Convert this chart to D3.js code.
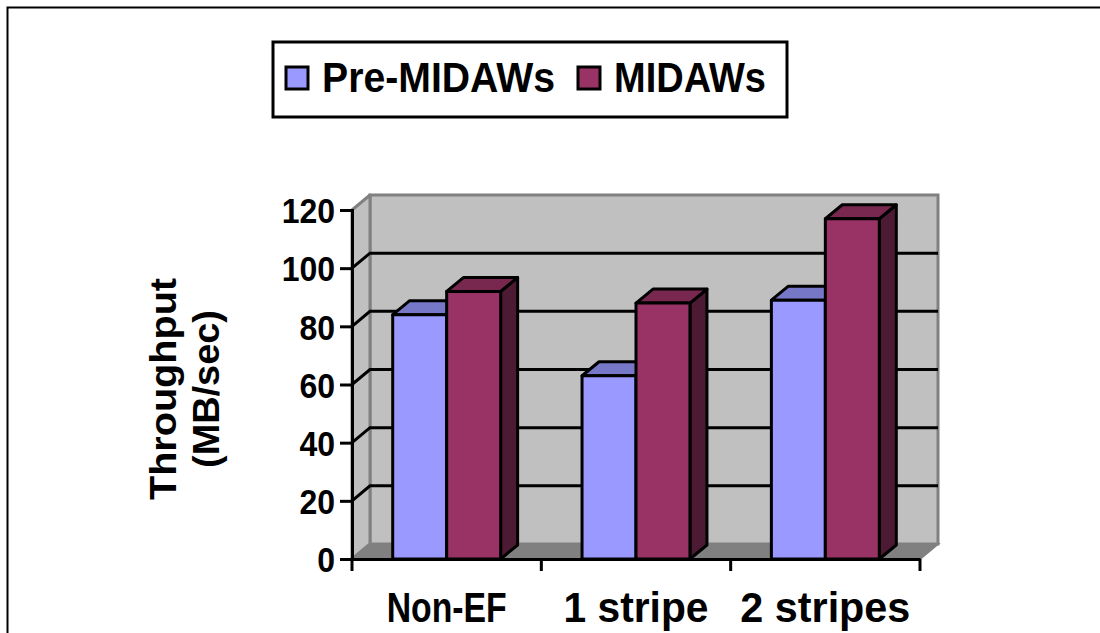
<!DOCTYPE html>
<html>
<head>
<meta charset="utf-8">
<script src="https://cdn.jsdelivr.net/npm/d3@7"></script>
<style>
  html, body { margin: 0; padding: 0; background: #fff; }
  svg { display: block; }
  text { font-family: "Liberation Sans", Arial, sans-serif; font-weight: bold; fill: #000; }
</style>
</head>
<body>
<svg id="chart" width="1100" height="633"></svg>
<script>
// Throughput by layout, before and after MIDAWs
const categories = ["Non-EF", "1 stripe", "2 stripes"];
const seriesNames = ["Pre-MIDAWs", "MIDAWs"];
const preMidaws = [84, 63, 89];
const midaws = [92, 88, 117];
const yTicks = [0, 20, 40, 60, 80, 100, 120];
const yTitle = ["Throughput", "(MB/sec)"];

const seriesValues = [preMidaws, midaws];
const colors = [
  { front: "#9999FF", top: "#7777C8", side: "#4D4D80" },
  { front: "#993366", top: "#78284F", side: "#4D1A33" }
];

// text in this chart is drawn slightly tall
const stretch = 1.1;

const svg = d3.select("#chart");

// outer frame (runs off the right and bottom edges)
svg.append("rect").attr("x", 7.5).attr("y", 7.5).attr("width", 1200).attr("height", 700)
  .attr("fill", "none").attr("stroke", "#000").attr("stroke-width", 2);

// plot geometry: front plane and wall depth offset
const plotL = 352, plotR = 920, plotB = 559, plotT = 210;
const wallDx = 18, wallDy = -15;
const barDx = 17, barDy = -14;

const y = d3.scaleLinear().domain([0, 120]).range([plotB, plotT]);
const x = d3.scaleBand().domain(categories).range([plotL, plotR])
  .paddingInner(0.43).paddingOuter(0.215);
const xs = d3.scaleBand().domain(seriesNames).range([0, x.bandwidth()]);

const g = svg.append("g");
const pts = a => a.map(p => p.join(",")).join(" ");

// back wall
g.append("rect").attr("x", plotL + wallDx).attr("y", y(120) + wallDy)
  .attr("width", plotR - plotL).attr("height", y(0) - y(120))
  .attr("fill", "#C0C0C0").attr("stroke", "#808080").attr("stroke-width", 3);
// side wall
g.append("polygon")
  .attr("points", pts([[plotL, y(120)], [plotL + wallDx, y(120) + wallDy], [plotL + wallDx, y(0) + wallDy], [plotL, y(0)]]))
  .attr("fill", "#C0C0C0").attr("stroke", "#808080").attr("stroke-width", 3).attr("stroke-linejoin", "round");
// floor
g.append("polygon")
  .attr("points", pts([[plotL, y(0)], [plotL + wallDx, y(0) + wallDy], [plotR + wallDx, y(0) + wallDy], [plotR, y(0)]]))
  .attr("fill", "#808080").attr("stroke", "#808080").attr("stroke-width", 2);

// gridlines on the walls
const inner = yTicks.filter(v => v > 0 && v < 120);
g.selectAll(".grid").data(inner).join("polyline")
  .attr("points", v => pts([[plotL, y(v)], [plotL + wallDx, y(v) + wallDy], [plotR + wallDx, y(v) + wallDy]]))
  .attr("fill", "none").attr("stroke", "#000").attr("stroke-width", 3);

// bars: front face, top and side
categories.forEach((c, i) => {
  seriesNames.forEach((s, j) => {
    const v = seriesValues[j][i];
    const x0 = x(c) + xs(s), x1 = x0 + xs.bandwidth();
    const y0 = y(0), y1 = y(v);
    const col = colors[j];
    const bg = g.append("g").attr("stroke", "#000").attr("stroke-width", 3).attr("stroke-linejoin", "round");
    bg.append("polygon").attr("points", pts([[x1, y1], [x1 + barDx, y1 + barDy], [x1 + barDx, y0 + barDy], [x1, y0]]))
      .attr("fill", col.side);
    bg.append("polygon").attr("points", pts([[x0, y1], [x0 + barDx, y1 + barDy], [x1 + barDx, y1 + barDy], [x1, y1]]))
      .attr("fill", col.top);
    bg.append("rect").attr("x", x0).attr("y", y1).attr("width", x1 - x0).attr("height", y0 - y1)
      .attr("fill", col.front);
  });
});

// value axis
const yAxis = d3.axisLeft(y).tickValues(yTicks).tickSize(12).tickPadding(5);
const ya = svg.append("g").attr("transform", `translate(${plotL},0)`).call(yAxis);
ya.select(".domain").attr("stroke", "#000").attr("stroke-width", 3);
ya.selectAll(".tick line").attr("stroke", "#000").attr("stroke-width", 3);
ya.selectAll(".tick text").attr("font-size", 32).attr("font-family", "Liberation Sans, Arial, sans-serif")
  .attr("font-weight", "bold").attr("dy", "0.36em").attr("transform", `scale(1,${stretch})`);

// category axis
const xLabelWidth = { "Non-EF": 120, "1 stripe": 145, "2 stripes": 170 };
const xAxis = d3.axisBottom(x).tickSize(0);
const xa = svg.append("g").attr("transform", `translate(0,${plotB})`).call(xAxis);
xa.select(".domain").attr("stroke", "#000").attr("stroke-width", 3);
xa.selectAll(".tick text").attr("font-size", 38).attr("font-family", "Liberation Sans, Arial, sans-serif")
  .attr("font-weight", "bold").attr("dy", 0).attr("y", 63 / stretch)
  .attr("textLength", d => xLabelWidth[d]).attr("lengthAdjust", "spacingAndGlyphs")
  .attr("transform", `scale(1,${stretch})`);
// tick marks between categories
const bounds = d3.range(categories.length + 1).map(k => plotL + k * x.step());
xa.selectAll(".sep").data(bounds).join("line")
  .attr("x1", d => d).attr("x2", d => d).attr("y1", 0).attr("y2", 12)
  .attr("stroke", "#000").attr("stroke-width", 3);

// axis title
const titleLen = [222, 158];
const yt = svg.append("g").attr("transform", "translate(0,389) rotate(-90)");
yt.selectAll("text").data(yTitle).join("text")
  .attr("text-anchor", "middle").attr("font-size", 36)
  .attr("x", 0).attr("y", (d, i) => i === 0 ? 176 : 219)
  .attr("textLength", (d, i) => titleLen[i]).attr("lengthAdjust", "spacingAndGlyphs")
  .text(d => d);

// legend
const lg = svg.append("g");
lg.append("rect").attr("x", 273).attr("y", 42).attr("width", 514).attr("height", 75)
  .attr("fill", "#fff").attr("stroke", "#000").attr("stroke-width", 3);
const legendX = [286, 578];
const legendLen = [233, 152];
seriesNames.forEach((s, j) => {
  lg.append("rect").attr("x", legendX[j]).attr("y", 67).attr("width", 22).attr("height", 22)
    .attr("fill", colors[j].front).attr("stroke", "#000").attr("stroke-width", 3);
  lg.append("text").attr("transform", `translate(${legendX[j] + 36},92) scale(1,${stretch})`)
    .attr("font-size", 38).attr("textLength", legendLen[j]).attr("lengthAdjust", "spacingAndGlyphs")
    .text(s);
});
</script>
</body>
</html>
